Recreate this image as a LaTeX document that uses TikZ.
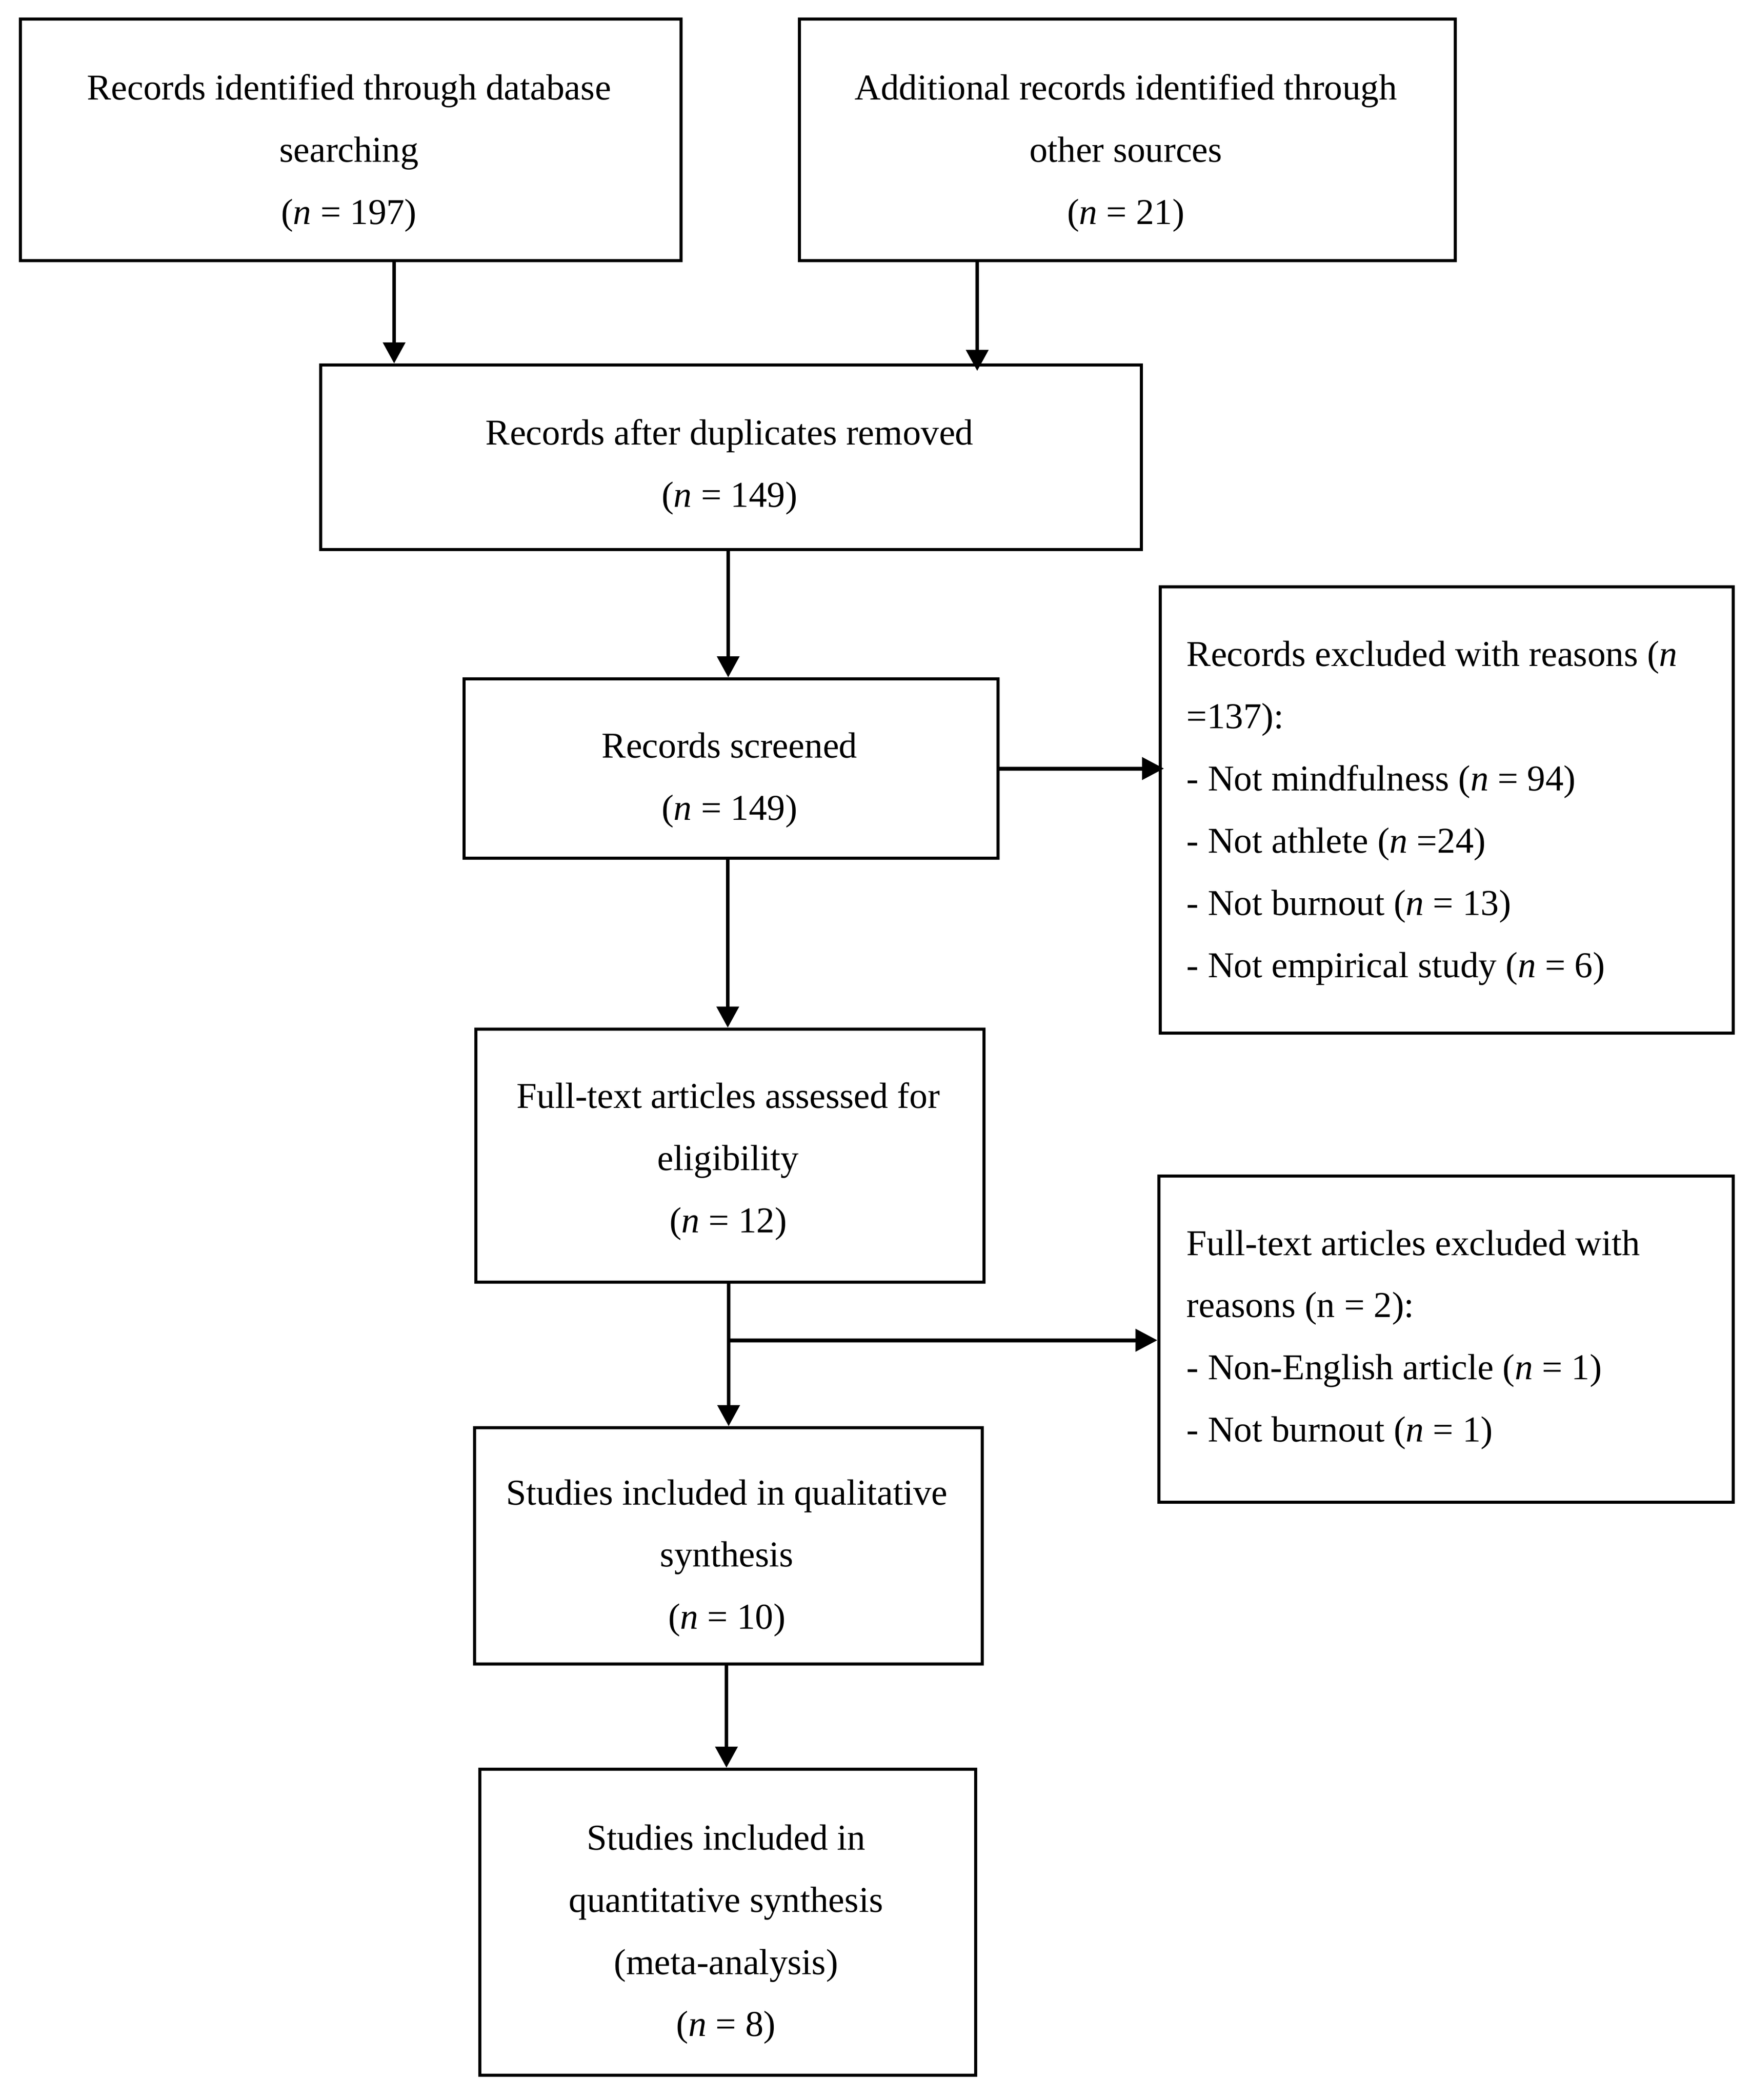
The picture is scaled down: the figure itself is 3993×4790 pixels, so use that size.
\documentclass[tikz,border=0pt]{standalone}
\usepackage{fontspec}
\setmainfont{Liberation Serif}
\usetikzlibrary{arrows.meta}
\begin{document}
\begin{tikzpicture}[x=0.1mm,y=-0.1mm,
  box/.style={draw=black,line width=0.7mm,fill=none,inner sep=0pt,anchor=north west},
  txt/.style={inner sep=0pt,align=center,font=\fontsize{23.6}{40.4}\selectfont},
  txtl/.style={inner sep=0pt,align=left,anchor=west,font=\fontsize{23.6}{40.4}\selectfont},
  arr/.style={line width=0.8mm,-{Triangle[length=4.8mm,width=5mm]}},
  harr/.style={line width=0.9mm,-{Triangle[length=5mm,width=5mm]}}]
\useasboundingbox (0,0) rectangle (3993,4790);
% boxes
\node[box,minimum width=150.7mm,minimum height=55.1mm] (b1) at (43,40) {};
\node[box,minimum width=149.6mm,minimum height=55.1mm] (b2) at (1820,40) {};
\node[box,minimum width=187.2mm,minimum height=42.1mm] (b3) at (728,829) {};
\node[box,minimum width=121.8mm,minimum height=40.9mm] (b4) at (1055,1545) {};
\node[box,minimum width=130.7mm,minimum height=101.8mm] (b5) at (2643,1335) {};
\node[box,minimum width=115.9mm,minimum height=57.7mm] (b6) at (1082,2344) {};
\node[box,minimum width=131.0mm,minimum height=74.4mm] (b7) at (2640,2679) {};
\node[box,minimum width=115.8mm,minimum height=53.9mm] (b8) at (1079,3253) {};
\node[box,minimum width=113.1mm,minimum height=69.8mm] (b9) at (1091,4032) {};
% texts
\node[txt] (t1) at (796,349) {Records identified through database\\searching\\(\textit{n} = 197)};
\node[txt] (t2) at (2568,349) {Additional records identified through\\other sources\\(\textit{n} = 21)};
\node[txt] (t3) at (1664,1065) {Records after duplicates removed\\(\textit{n} = 149)};
\node[txt] (t4) at (1664,1780) {Records screened\\(\textit{n} = 149)};
\node[txtl] (t5) at (2706,1855) {Records excluded with reasons (\textit{n}\\=137):\\- Not mindfulness (\textit{n} = 94)\\- Not athlete (\textit{n} =24)\\- Not burnout (\textit{n} = 13)\\- Not empirical study (\textit{n} = 6)};
\node[txt] (t6) at (1661,2649) {Full-text articles assessed for\\eligibility\\(\textit{n} = 12)};
\node[txtl] (t7) at (2706,3056) {Full-text articles excluded with\\reasons (n = 2):\\- Non-English article (\textit{n} = 1)\\- Not burnout (\textit{n} = 1)};
\node[txt] (t8) at (1658,3554) {Studies included in qualitative\\synthesis\\(\textit{n} = 10)};
\node[txt] (t9) at (1656,4412) {Studies included in\\quantitative synthesis\\(meta-analysis)\\(\textit{n} = 8)};
% column coordinates
\coordinate (c1) at (899,0);
\coordinate (c2) at (2229,0);
\coordinate (c3) at (1661,0);
\coordinate (c4) at (1660,0);
\coordinate (c5) at (1662,0);
\coordinate (c6) at (1657,0);
\coordinate (r1) at (0,1753);
\coordinate (r2) at (0,3057);
% connectors
\draw[arr] (b1.south -| c1) -- (b3.north -| c1);
\draw[arr,shorten >=-1.7mm] (b2.south -| c2) -- (b3.north -| c2);
\draw[arr] (b3.south -| c3) -- (b4.north -| c3);
\draw[harr,shorten >=-1.2mm] (b4.east |- r1) -- (b5.west |- r1);
\draw[arr] (b4.south -| c4) -- (b6.north -| c4);
\draw[arr] (b6.south -| c5) -- (b8.north -| c5);
\coordinate (br) at (c5 |- r2);
\draw[harr] (br) -- (b7.west |- r2);
\draw[arr] (b8.south -| c6) -- (b9.north -| c6);
\end{tikzpicture}
\end{document}
